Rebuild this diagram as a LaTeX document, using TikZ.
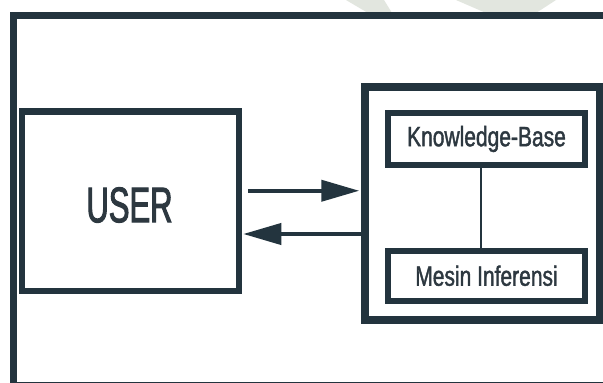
\documentclass[tikz,border=0pt]{standalone}
\usepackage{fontspec}
\setmainfont{Liberation Sans}[FakeStretch=0.75, FakeBold=1.4]
\newfontfamily\userfont{Liberation Sans}[FakeStretch=0.62, FakeBold=2]
\usetikzlibrary{arrows.meta,calc}
\definecolor{ink}{RGB}{35,52,62}
\definecolor{txt}{RGB}{45,56,64}
\definecolor{logogrey}{RGB}{226,230,223}
\tikzset{
  box/.style={draw=ink, fill=white, inner sep=0pt, text=txt},
  arr/.style={draw=ink, line width=4pt, -{Triangle[length=38pt,width=21pt]}},
  link/.style={draw=ink, line width=1.8pt}
}
\begin{document}
\begin{tikzpicture}[x=1pt, y=-1pt]
  \useasboundingbox (0,0) rectangle (603,383);
  \clip (0,0) rectangle (603,383);
  \fill[white] (0,0) rectangle (603,383);
  % faint background logo strokes along the top edge
  \fill[logogrey] (346,0) -- (384,0) -- (392,13) -- (368,13) -- cycle;
  \fill[logogrey] (456,0) -- (556,0) -- (536,13) -- (486,13) -- cycle;
  % outer frame, running past the right and bottom edges
  \draw[ink, line width=6.5pt] (13.5,15.5) rectangle (640,385.5);
  % user
  \node[box, line width=6.5pt, minimum width=217pt, minimum height=179.5pt] (user) at (130.5,201.25) {};
  \node[text=txt, inner sep=0pt, anchor=center, font=\userfont\fontsize{50}{50}\selectfont]
        (userlbl) at (129.5,205) {USER};
  % knowledge system
  \node[box, line width=7.5pt, minimum width=235pt, minimum height=233pt] (sys) at (482.5,203.5) {};
  \node[box, line width=6pt, minimum width=197pt, minimum height=52pt,
        font=\fontsize{28}{28}\selectfont] (kb) at (486.5,139) {Knowledge-Base};
  \node[box, line width=6pt, minimum width=197pt, minimum height=50.5pt,
        font=\fontsize{28}{28}\selectfont] (mi) at (486.5,275.75) {Mesin Inferensi};
  \draw[link] ($(kb.south)+(-5.5,0)$) -- ($(mi.north)+(-5.5,0)$);
  % request and response arrows
  \draw[arr] ($(user.east)+(6,-10.5)$) -- ($(sys.west)+(-2,-12.75)$);
  \draw[arr] ($(sys.west)+(0,30.5)$) -- ($(user.east)+(1,32.75)$);
\end{tikzpicture}
\end{document}
